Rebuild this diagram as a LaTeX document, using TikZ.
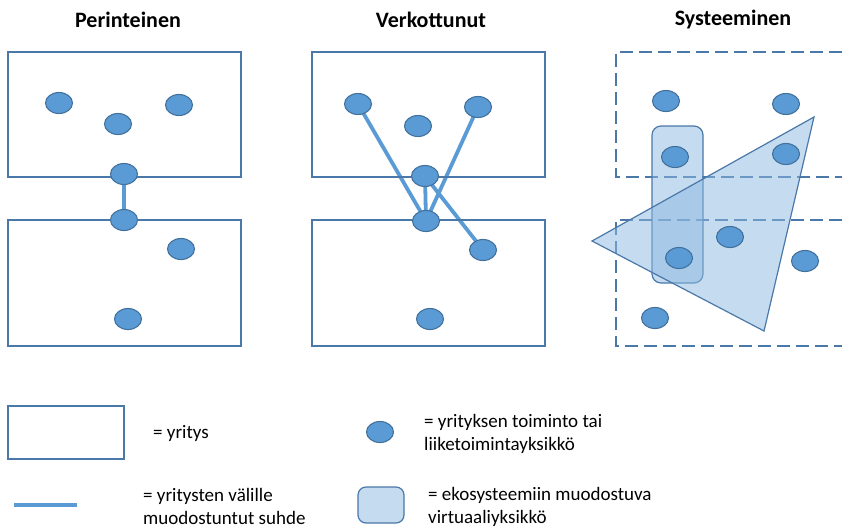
\documentclass[tikz,border=0pt]{standalone}
\usepackage{fontspec}
\setmainfont{Carlito}
\usetikzlibrary{shapes.geometric,backgrounds}
\definecolor{unitfill}{HTML}{5B9BD5}
\definecolor{unitedge}{HTML}{41719C}
\definecolor{firmedge}{HTML}{4A78A8}
\definecolor{linkcol}{HTML}{5B9BD5}
\definecolor{virtfill}{RGB}{140,185,225}
\tikzset{
  unit/.style={ellipse, draw=unitedge, fill=unitfill, line width=1.1pt,
    minimum width=27pt, minimum height=21pt, inner sep=0pt},
  firm/.style={draw=firmedge, line width=1.2pt},
  firmdash/.style={draw=firmedge, line width=1.3pt, dash pattern=on 13pt off 6pt},
  link/.style={draw=linkcol, line width=3.8pt},
  virt/.style={fill=virtfill, fill opacity=0.5, draw=firmedge, line width=1.2pt, draw opacity=1},
  heading/.style={font=\fontsize{22}{24}\selectfont\bfseries, inner sep=0pt},
  legtext/.style={font=\fontsize{19}{23}\selectfont, align=left, anchor=west, inner sep=0pt}
}
\begin{document}
\begin{tikzpicture}[x=1pt,y=-1pt]
\useasboundingbox (0,0) rectangle (842,528);

% headings
\node[heading] (h1) at (128,20) {Perinteinen};
\node[heading] (h2) at (431,20) {Verkottunut};
\node[heading] (h3) at (733,20) {Systeeminen};

% ---- traditional ----
\draw[firm] (8,52) rectangle (241,177);
\draw[firm] (8,220) rectangle (241,346);
\node[unit] (a1) at (59,103) {};
\node[unit] (a2) at (118,124) {};
\node[unit] (a3) at (179,105) {};
\node[unit] (a4) at (124,174) {};
\node[unit] (a5) at (124,220) {};
\node[unit] (a6) at (181,249) {};
\node[unit] (a7) at (128,319) {};

% ---- networked ----
\draw[firm] (312,52) rectangle (545,177);
\draw[firm] (312,220) rectangle (545,346);
\node[unit] (b1) at (358,104) {};
\node[unit] (b2) at (418,126) {};
\node[unit] (b3) at (478,107) {};
\node[unit] (b4) at (425,176) {};
\node[unit] (b5) at (426,221) {};
\node[unit] (b6) at (483,250) {};
\node[unit] (b7) at (430,319) {};

% links behind the units
\begin{scope}[on background layer]
  \draw[link] (a4.center) -- (a5.center);
  \draw[link] (b1.center) -- (b5.center);
  \draw[link] (b3.center) -- (b5.center);
  \draw[link] (b4.center) -- (b5.center);
  \draw[link] (b4.center) -- (b6.center);
\end{scope}

% ---- systemic ----
\draw[firmdash] (842,52) -- (616,52) -- (616,177) -- (842,177);
\draw[firmdash] (842,220) -- (616,220) -- (616,346) -- (842,346);
\path[virt, rounded corners=9pt] (652,126) rectangle (703,283);
\path[virt, line join=miter] (592,241) -- (814,117) -- (764,331) -- cycle;
\node[unit] (c1) at (666,101) {};
\node[unit] (c2) at (786,104) {};
\node[unit] (c3) at (675,157) {};
\node[unit] (c4) at (786,154) {};
\node[unit] (c5) at (730,237) {};
\node[unit] (c6) at (805,261) {};
\node[unit] (c7) at (679,258) {};
\node[unit] (c8) at (655,318) {};

% ---- legend ----
\draw[firm] (8,406) rectangle (124,459);
\node[legtext] (l1) at (153,433) {= yritys};
\node[unit] (lu) at (380,432) {};
\node[legtext] (l2) at (424,434) {= yrityksen toiminto tai\\liiketoimintayksikkö};
\coordinate (ls) at (14,505);
\coordinate (le) at (77,505);
\draw[link] (ls) -- (le);
\node[legtext] (l3) at (143,506) {= yritysten välille\\muodostuntut suhde};
\path[virt, rounded corners=8pt] (358,487) rectangle (404,523);
\node[legtext] (l4) at (428,507) {= ekosysteemiin muodostuva\\virtuaaliyksikkö};
\end{tikzpicture}
\end{document}
